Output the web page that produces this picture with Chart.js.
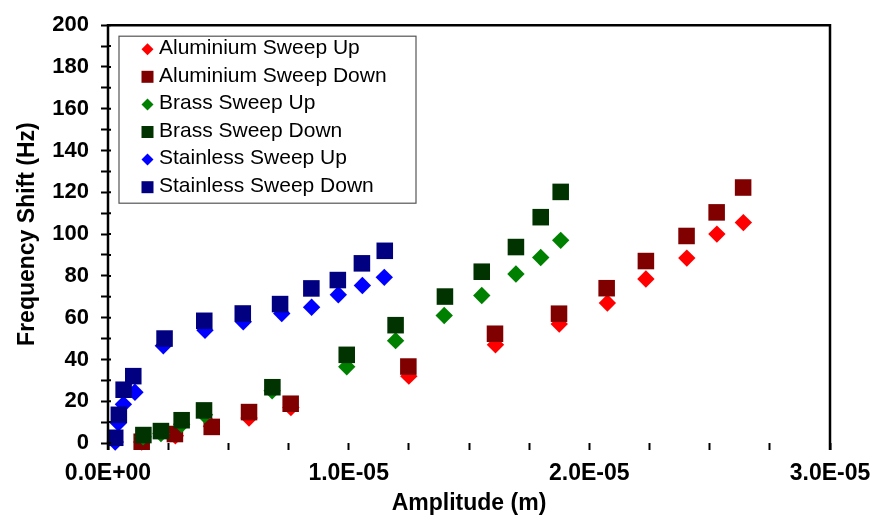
<!DOCTYPE html>
<html>
<head>
<meta charset="utf-8">
<script src="https://cdn.jsdelivr.net/npm/chart.js@4.4.1/dist/chart.umd.min.js"></script>
<style>
  html, body { margin: 0; padding: 0; background: #ffffff; }
  canvas { display: block; }
</style>
</head>
<body>
<canvas id="chart" width="892" height="519"></canvas>
<script>
// Series names, in legend order
const seriesNames = [
  'Aluminium Sweep Up', 'Aluminium Sweep Down',
  'Brass Sweep Up', 'Brass Sweep Down',
  'Stainless Sweep Up', 'Stainless Sweep Down'
];

// Amplitude (m) and frequency shift (Hz) for each sweep
const aluminiumUpAmp   = [1.40e-6, 2.80e-6, 4.30e-6, 5.86e-6, 7.60e-6, 12.50e-6, 16.10e-6, 18.75e-6, 20.75e-6, 22.35e-6, 24.05e-6, 25.30e-6, 26.40e-6];
const aluminiumUpShift = [0.5, 3.5, 8, 12, 17, 32, 47, 57, 67, 78.5, 88.5, 100, 105.5];

const aluminiumDownAmp   = [1.40e-6, 2.78e-6, 4.31e-6, 5.86e-6, 7.59e-6, 12.48e-6, 16.08e-6, 18.74e-6, 20.72e-6, 22.35e-6, 24.04e-6, 25.29e-6, 26.39e-6];
const aluminiumDownShift = [0.6, 4.3, 7.7, 14.8, 18.8, 36.6, 52.3, 61.9, 74.1, 87.1, 99.1, 110.4, 122.3];

const brassUpAmp   = [1.46e-6, 2.20e-6, 3.06e-6, 4.01e-6, 6.82e-6, 9.92e-6, 11.95e-6, 13.97e-6, 15.53e-6, 16.95e-6, 17.98e-6, 18.81e-6];
const brassUpShift = [3, 4.5, 9, 13.5, 25, 36.5, 49, 61, 70.6, 80.9, 88.8, 97];

const brassDownAmp   = [1.47e-6, 2.20e-6, 3.06e-6, 3.99e-6, 6.83e-6, 9.92e-6, 11.95e-6, 14.00e-6, 15.53e-6, 16.95e-6, 17.98e-6, 18.81e-6];
const brassDownShift = [3.8, 5.7, 10.9, 15.6, 26.7, 42.2, 56.4, 70.1, 82, 93.8, 108.1, 120.2];

const stainlessUpAmp   = [0.30e-6, 0.43e-6, 0.64e-6, 1.12e-6, 2.30e-6, 4.03e-6, 5.62e-6, 7.22e-6, 8.46e-6, 9.57e-6, 10.57e-6, 11.48e-6];
const stainlessUpShift = [0.5, 9.6, 18.5, 24.3, 46.5, 54, 58, 62, 65, 71, 75.4, 79.3];

const stainlessDownAmp   = [0.30e-6, 0.45e-6, 0.65e-6, 1.05e-6, 2.35e-6, 4.00e-6, 5.60e-6, 7.15e-6, 8.45e-6, 9.55e-6, 10.55e-6, 11.50e-6];
const stainlessDownShift = [2.5, 13.5, 25.5, 32, 50, 58.5, 62, 66.5, 74, 78, 86, 92];

// Axis ranges and tick steps
const xMin = 0, xMax = 3e-5, xMinorStep = 2.5e-6, xLabelStep = 1e-5;
const yMin = 0, yMax = 200, yMinorStep = 10, yLabelStep = 20;

// Appearance of each series
const seriesColors  = ['#FF0000', '#800000', '#008000', '#003300', '#0000FF', '#000080'];
const seriesMarkers = ['rectRot', 'rect', 'rectRot', 'rect', 'rectRot', 'rect'];

const seriesAmp   = [aluminiumUpAmp, aluminiumDownAmp, brassUpAmp, brassDownAmp, stainlessUpAmp, stainlessDownAmp];
const seriesShift = [aluminiumUpShift, aluminiumDownShift, brassUpShift, brassDownShift, stainlessUpShift, stainlessDownShift];

const FONT = "'Liberation Sans', Arial, Helvetica, sans-serif";

function sciLabel(v) {
  if (Math.abs(v) < 1e-15) return '0.0E+00';
  const e = Math.floor(Math.log10(Math.abs(v)) + 1e-9);
  const m = v / Math.pow(10, e);
  return m.toFixed(1) + 'E' + (e < 0 ? '-' : '+') + String(Math.abs(e)).padStart(2, '0');
}

function isMultiple(v, step) {
  const r = v / step;
  return Math.abs(r - Math.round(r)) < 1e-6;
}

const datasets = seriesNames.map((name, i) => ({
  label: name,
  data: seriesAmp[i].map((a, k) => ({ x: a, y: seriesShift[i][k] })),
  backgroundColor: seriesColors[i],
  borderColor: seriesColors[i],
  borderWidth: 0,
  pointStyle: seriesMarkers[i],
  pointRadius: seriesMarkers[i] === 'rect' ? 11.7 : 8.7,
  pointHoverRadius: seriesMarkers[i] === 'rect' ? 11.7 : 8.7,
  showLine: false,
  clip: false,
  // later series are painted over earlier ones
  order: seriesNames.length - 1 - i
}));

// Plot frame: left axis, top edge, right edge, plus inner stubs of the y ticks
const framePlugin = {
  id: 'frame',
  afterDatasetsDraw(chart) {
    const { ctx, chartArea: a } = chart;
    const yScale = chart.scales.y;
    ctx.save();
    ctx.strokeStyle = '#000000';
    ctx.lineWidth = 2.5;
    ctx.beginPath();
    ctx.moveTo(a.left, a.bottom + 7);
    ctx.lineTo(a.left, a.top);
    ctx.lineTo(a.right, a.top);
    ctx.lineTo(a.right, a.bottom + 7);
    ctx.stroke();
    ctx.lineWidth = 2;
    ctx.beginPath();
    yScale.ticks.forEach(t => {
      const py = yScale.getPixelForValue(t.value);
      ctx.moveTo(a.left, py);
      ctx.lineTo(a.left + 3, py);
    });
    ctx.stroke();
    ctx.restore();
  }
};

// Boxed legend inside the plot area
const boxLegendPlugin = {
  id: 'boxLegend',
  afterDraw(chart) {
    const { ctx, chartArea: a } = chart;
    const boxX = a.left + 11, boxY = a.top + 11, boxW = 297, boxH = 167;
    const rowStart = boxY + 13, rowStep = 27.6;
    ctx.save();
    ctx.fillStyle = '#ffffff';
    ctx.fillRect(boxX, boxY, boxW, boxH);
    ctx.strokeStyle = '#555555';
    ctx.lineWidth = 1.2;
    ctx.strokeRect(boxX, boxY, boxW, boxH);
    ctx.font = '21px ' + FONT;
    ctx.textBaseline = 'middle';
    ctx.textAlign = 'left';
    chart.data.datasets.forEach((ds, i) => {
      const cy = rowStart + i * rowStep;
      const cx = boxX + 28.5;
      ctx.fillStyle = ds.backgroundColor;
      ctx.beginPath();
      if (ds.pointStyle === 'rect') {
        ctx.rect(cx - 6, cy - 6, 12, 12);
      } else {
        ctx.moveTo(cx, cy - 6);
        ctx.lineTo(cx + 6, cy);
        ctx.lineTo(cx, cy + 6);
        ctx.lineTo(cx - 6, cy);
        ctx.closePath();
      }
      ctx.fill();
      ctx.fillStyle = '#000000';
      ctx.fillText(ds.label, boxX + 40, cy - 1);
    });
    ctx.restore();
  }
};

new Chart(document.getElementById('chart'), {
  type: 'scatter',
  data: { datasets },
  options: {
    responsive: false,
    animation: false,
    events: [],
    layout: { padding: { top: 21, right: 62, bottom: 0, left: 0 } },
    plugins: { legend: { display: false }, tooltip: { enabled: false } },
    scales: {
      x: {
        type: 'linear',
        min: xMin,
        max: xMax,
        afterFit(scale) { scale.height = 76; },
        border: { display: false },
        grid: { drawOnChartArea: false, drawTicks: true, tickLength: 7, tickColor: '#000000', tickWidth: 2 },
        ticks: {
          stepSize: xMinorStep,
          autoSkip: false,
          maxRotation: 0,
          minRotation: 0,
          padding: 10,
          color: '#000000',
          font: { family: FONT, size: 23, weight: 'bold' },
          callback: v => isMultiple(v, xLabelStep) ? sciLabel(v) : ''
        },
        title: {
          display: true,
          text: 'Amplitude (m)',
          color: '#000000',
          font: { family: FONT, size: 23, weight: 'bold' },
          padding: { top: 0, bottom: 2 }
        }
      },
      y: {
        type: 'linear',
        min: yMin,
        max: yMax,
        afterFit(scale) { scale.width = 108; },
        border: { display: false },
        grid: { drawOnChartArea: false, drawTicks: true, tickLength: 7, tickColor: '#000000', tickWidth: 2 },
        ticks: {
          stepSize: yMinorStep,
          autoSkip: false,
          padding: 12,
          color: '#000000',
          font: { family: FONT, size: 22, weight: 'bold' },
          callback: v => isMultiple(v, yLabelStep) ? String(Math.round(v)) : ''
        },
        title: {
          display: true,
          text: 'Frequency Shift (Hz)',
          color: '#000000',
          font: { family: FONT, size: 23, weight: 'bold' },
          padding: { top: 14, bottom: 0 }
        }
      }
    }
  },
  plugins: [framePlugin, boxLegendPlugin]
});
</script>
</body>
</html>
